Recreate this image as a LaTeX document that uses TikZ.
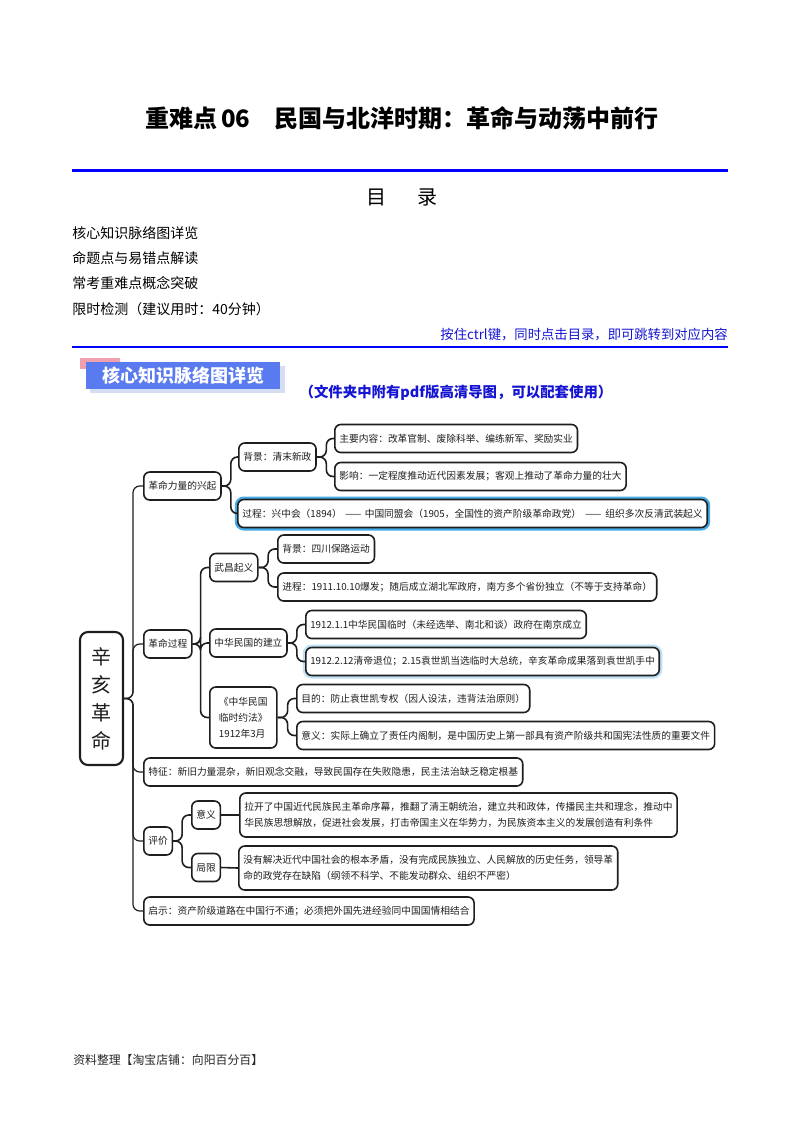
\documentclass[tikz,border=0pt]{standalone}
\usepackage{fontspec}
\setmainfont{Noto Sans CJK SC}
\usetikzlibrary{calc}
\definecolor{glowA}{RGB}{70,170,230}
\definecolor{glowB}{RGB}{190,225,245}
\definecolor{bannerblue}{RGB}{90,122,240}
\definecolor{bannerpink}{RGB}{240,160,175}
\definecolor{bannershadow}{RGB}{215,220,245}
\definecolor{linkblue}{RGB}{20,20,210}
\definecolor{ink}{RGB}{30,30,30}
\begin{document}
\begin{tikzpicture}[x=0.75pt,y=-0.75pt,
  box/.style={draw=ink, line width=1.2pt, rounded corners=4.5pt, fill=white,
    inner xsep=3.4pt, inner ysep=0pt, minimum height=21pt, anchor=west,
    font=\fontsize{7.3pt}{12pt}\selectfont, text=ink},
  tallbox/.style={box, minimum height=33pt, align=left},
  glowboxA/.style={box, preaction={draw=glowA, line width=4.5pt}},
  glowboxB/.style={box, preaction={draw=glowB, line width=4.5pt}},
  conn/.style={draw=ink, line width=1.2pt, rounded corners=5pt},
  spine/.style={draw=ink, line width=0.9pt, rounded corners=5pt},
  rootbox/.style={draw=ink, line width=1.6pt, rounded corners=6pt, fill=white,
    minimum width=32.25pt, minimum height=99.75pt, align=center,
    font=\fontsize{15pt}{21pt}\selectfont, text=ink},
  toc/.style={anchor=west, inner sep=0pt, font=\fontsize{10.5pt}{12pt}\selectfont, text=black}
]
\useasboundingbox (0,0) rectangle (800,1132);

% ---------- header ----------
\node[font=\fontsize{18pt}{20pt}\selectfont\bfseries, text=black] (title) at (402,118)
  {重难点\,06\quad 民国与北洋时期：革命与动荡中前行};
\draw[blue, line width=2.25pt] (72,170) -- (728,170);
\node[font=\fontsize{15pt}{16pt}\selectfont, text=black] (mu) at (376,197) {目};
\node[font=\fontsize{15pt}{16pt}\selectfont, text=black] (lu) at (427,197) {录};
\node[toc] (t1) at (72,233) {核心知识脉络图详览};
\node[toc] (t2) at (72,258) {命题点与易错点解读};
\node[toc] (t3) at (72,283.5) {常考重难点概念突破};
\node[toc] (t4) at (72,309) {限时检测（建议用时：40分钟）};
\node[anchor=east, inner sep=0pt, font=\fontsize{10pt}{12pt}\selectfont, text=linkblue] (hint) at (728,335)
  {按住ctrl键，同时点击目录，即可跳转到对应内容};
\draw[blue, line width=1.5pt] (72,347) -- (728,347);

% ---------- banner ----------
\fill[bannerpink] (80,358) rectangle (120,369);
\fill[bannershadow] (90,366) rectangle (285,393);
\fill[bannerblue] (86,362) rectangle (280,389);
\node[font=\fontsize{13.5pt}{14pt}\selectfont\bfseries, text=white] (banner) at (183,375.5) {核心知识脉络图详览};
\node[font=\fontsize{10.8pt}{12pt}\selectfont\bfseries, text=linkblue] (note) at (456,393)
  {（文件夹中附有pdf版高清导图，可以配套使用）};

% ---------- mind map ----------
\node[rootbox] (root) at (101.5,698.5) {辛\\亥\\革\\命};

\node[box] (n1) at (143,486) {革命力量的兴起};
\node[box] (n11) at (238,457) {背景：清末新政};
\node[box] (n111) at (334,438.5) {主要内容：改革官制、废除科举、编练新军、奖励实业};
\node[box] (n112) at (334,476.5) {影响：一定程度推动近代因素发展；客观上推动了革命力量的壮大};
\node[glowboxA] (n12) at (237,513.5) {过程：兴中会（1894）\hspace{2.5pt}——\hspace{2.5pt}中国同盟会（1905，全国性的资产阶级革命政党）\hspace{3pt}——\hspace{3pt}组织多次反清武装起义};

\node[box] (n2) at (143,644) {革命过程};
\node[box] (n21) at (209,567.5) {武昌起义};
\node[box] (n211) at (277,549) {背景：四川保路运动};
\node[box] (n212) at (277,587) {进程：1911.10.10爆发；随后成立湖北军政府，南方多个省份独立（不等于支持革命）};
\node[box] (n22) at (209,643) {中华民国的建立};
\node[box] (n221) at (305,624.5) {1912.1.1中华民国临时（未经选举、南北和谈）政府在南京成立};
\node[glowboxB] (n222) at (305,661.5) {1912.2.12清帝退位；2.15袁世凯当选临时大总统，辛亥革命成果落到袁世凯手中};
\node[box, align=left, minimum width=50.25pt, minimum height=45.75pt] (n23) at (209,717.5)
  {《中华民国\\临时约法》\\1912年3月};
\node[box] (n231) at (296,698.5) {目的：防止袁世凯专权（因人设法，违背法治原则）};
\node[box] (n232) at (296,735.5) {意义：实际上确立了责任内阁制，是中国历史上第一部具有资产阶级共和国宪法性质的重要文件};

\node[box] (n3) at (143,772) {特征：新旧力量混杂，新旧观念交融，导致民国存在失败隐患，民主法治缺乏稳定根基};

\node[box] (n4) at (143,841) {评价};
\node[box] (n41) at (191,815) {意义};
\node[tallbox] (n411) at (239,815)
  {拉开了中国近代民族民主革命序幕，推翻了清王朝统治，建立共和政体，传播民主共和理念，推动中\\华民族思想解放，促进社会发展，打击帝国主义在华势力，为民族资本主义的发展创造有利条件};
\node[box] (n42) at (191,867.5) {局限};
\node[tallbox] (n421) at (238,868)
  {没有解决近代中国社会的根本矛盾，没有完成民族独立、人民解放的历史任务，领导革\\命的政党存在缺陷（纲领不科学、不能发动群众、组织不严密）};

\node[box] (n5) at (143,911) {启示：资产阶级道路在中国行不通；必须把外国先进经验同中国国情相结合};

% ---------- connectors ----------
\foreach \c in {n1,n2,n3,n4,n5}
  \draw[spine] (root.east) -- (133,698.5) |- (\c.west);
\foreach \c in {n11,n12}
  \draw[conn] (n1.east) -- ++(9,0) |- (\c.west);
\foreach \c in {n111,n112}
  \draw[conn] (n11.east) -- ++(9.5,0) |- (\c.west);
\foreach \c in {n21,n22,n23}
  \draw[conn] (n2.east) -- ++(8,0) |- (\c.west);
\foreach \c in {n211,n212}
  \draw[conn] (n21.east) -- ++(9.5,0) |- (\c.west);
\foreach \c in {n221,n222}
  \draw[conn] (n22.east) -- ++(9,0) |- (\c.west);
\foreach \c in {n231,n232}
  \draw[conn] (n23.east) -- ++(10,0) |- (\c.west);
\foreach \c in {n41,n42}
  \draw[conn] (n4.east) -- ++(9,0) |- (\c.west);
\draw[conn] (n41.east) -- (n411.west);
\draw[conn] (n42.east) -- (n421.west);

% ---------- footer ----------
\node[anchor=west, inner sep=0pt, font=\fontsize{8.9pt}{10pt}\selectfont, text=black!85] (foot) at (73,1060)
  {资料整理【淘宝店铺：向阳百分百】};
\end{tikzpicture}
\end{document}
